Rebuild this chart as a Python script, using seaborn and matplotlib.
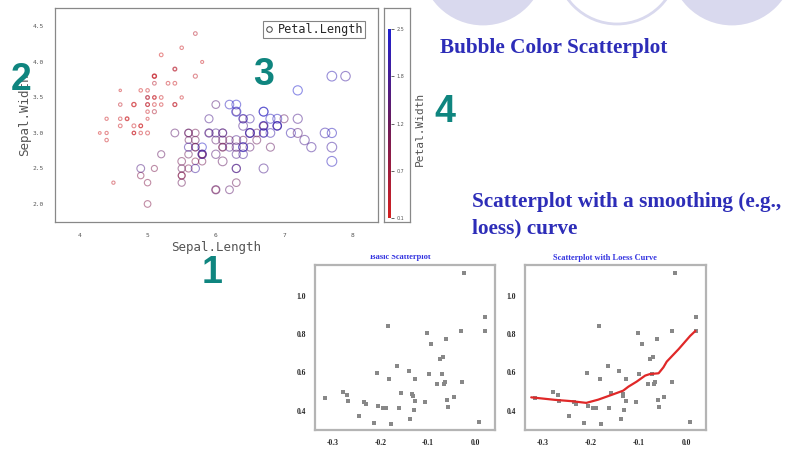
import numpy as np
import pandas as pd
import matplotlib
matplotlib.use("Agg")
import matplotlib.pyplot as plt
import seaborn as sns
from matplotlib.colors import LinearSegmentedColormap, Normalize
from matplotlib.cm import ScalarMappable
from matplotlib.lines import Line2D
from matplotlib.patches import Circle, Rectangle

# iris data (Sepal.Length vs Sepal.Width, size = Petal.Length, colour = Petal.Width)
sepal_length = [5.1,4.9,4.7,4.6,5.0,5.4,4.6,5.0,4.4,4.9,5.4,4.8,4.8,4.3,5.8,5.7,5.4,5.1,5.7,5.1,
                5.4,5.1,4.6,5.1,4.8,5.0,5.0,5.2,5.2,4.7,4.8,5.4,5.2,5.5,4.9,5.0,5.5,4.9,4.4,5.1,
                5.0,4.5,4.4,5.0,5.1,4.8,5.1,4.6,5.3,5.0,7.0,6.4,6.9,5.5,6.5,5.7,6.3,4.9,6.6,5.2,
                5.0,5.9,6.0,6.1,5.6,6.7,5.6,5.8,6.2,5.6,5.9,6.1,6.3,6.1,6.4,6.6,6.8,6.7,6.0,5.7,
                5.5,5.5,5.8,6.0,5.4,6.0,6.7,6.3,5.6,5.5,5.5,6.1,5.8,5.0,5.6,5.7,5.7,6.2,5.1,5.7,
                6.3,5.8,7.1,6.3,6.5,7.6,4.9,7.3,6.7,7.2,6.5,6.4,6.8,5.7,5.8,6.4,6.5,7.7,7.7,6.0,
                6.9,5.6,7.7,6.3,6.7,7.2,6.2,6.1,6.4,7.2,7.4,7.9,6.4,6.3,6.1,7.7,6.3,6.4,6.0,6.9,
                6.7,6.9,5.8,6.8,6.7,6.7,6.3,6.5,6.2,5.9]
sepal_width = [3.5,3.0,3.2,3.1,3.6,3.9,3.4,3.4,2.9,3.1,3.7,3.4,3.0,3.0,4.0,4.4,3.9,3.5,3.8,3.8,
               3.4,3.7,3.6,3.3,3.4,3.0,3.4,3.5,3.4,3.2,3.1,3.4,4.1,4.2,3.1,3.2,3.5,3.6,3.0,3.4,
               3.5,2.3,3.2,3.5,3.8,3.0,3.8,3.2,3.7,3.3,3.2,3.2,3.1,2.3,2.8,2.8,3.3,2.4,2.9,2.7,
               2.0,3.0,2.2,2.9,2.9,3.1,3.0,2.7,2.2,2.5,3.2,2.8,2.5,2.8,2.9,3.0,2.8,3.0,2.9,2.6,
               2.4,2.4,2.7,2.7,3.0,3.4,3.1,2.3,3.0,2.5,2.6,3.0,2.6,2.3,2.7,3.0,2.9,2.9,2.5,2.8,
               3.3,2.7,3.0,2.9,3.0,3.0,2.5,2.9,2.5,3.6,3.2,2.7,3.0,2.5,2.8,3.2,3.0,3.8,2.6,2.2,
               3.2,2.8,2.8,2.7,3.3,3.2,2.8,3.0,2.8,3.0,2.8,3.8,2.8,2.8,2.6,3.0,3.4,3.1,3.0,3.1,
               3.1,3.1,2.7,3.2,3.3,3.0,2.5,3.0,3.4,3.0]
petal_length = [1.4,1.4,1.3,1.5,1.4,1.7,1.4,1.5,1.4,1.5,1.5,1.6,1.4,1.1,1.2,1.5,1.3,1.4,1.7,1.5,
                1.7,1.5,1.0,1.7,1.9,1.6,1.6,1.5,1.4,1.6,1.6,1.5,1.5,1.4,1.5,1.2,1.3,1.4,1.3,1.5,
                1.3,1.3,1.3,1.6,1.9,1.4,1.6,1.4,1.5,1.4,4.7,4.5,4.9,4.0,4.6,4.5,4.7,3.3,4.6,3.9,
                3.5,4.2,4.0,4.7,3.6,4.4,4.5,4.1,4.5,3.9,4.8,4.0,4.9,4.7,4.3,4.4,4.8,5.0,4.5,3.5,
                3.8,3.7,3.9,5.1,4.5,4.5,4.7,4.4,4.1,4.0,4.4,4.6,4.0,3.3,4.2,4.2,4.2,4.3,3.0,4.1,
                6.0,5.1,5.9,5.6,5.8,6.6,4.5,6.3,5.8,6.1,5.1,5.3,5.5,5.0,5.1,5.3,5.5,6.7,6.9,5.0,
                5.7,4.9,6.7,4.9,5.7,6.0,4.8,4.9,5.6,5.8,6.1,6.4,5.6,5.1,5.6,6.1,5.6,5.5,4.8,5.4,
                5.6,5.1,5.1,5.9,5.7,5.2,5.0,5.2,5.4,5.1]
petal_width = [0.2,0.2,0.2,0.2,0.2,0.4,0.3,0.2,0.2,0.1,0.2,0.2,0.1,0.1,0.2,0.4,0.4,0.3,0.3,0.3,
               0.2,0.4,0.2,0.5,0.2,0.2,0.4,0.2,0.2,0.2,0.2,0.4,0.1,0.2,0.2,0.2,0.2,0.1,0.2,0.2,
               0.3,0.3,0.2,0.6,0.4,0.3,0.2,0.2,0.2,0.2,1.4,1.5,1.5,1.3,1.5,1.3,1.6,1.0,1.3,1.4,
               1.0,1.5,1.0,1.4,1.3,1.4,1.5,1.0,1.5,1.1,1.8,1.3,1.5,1.2,1.3,1.4,1.4,1.7,1.5,1.0,
               1.1,1.0,1.2,1.6,1.5,1.6,1.5,1.3,1.3,1.3,1.2,1.4,1.2,1.0,1.3,1.2,1.3,1.3,1.1,1.3,
               2.5,1.9,2.1,1.8,2.2,2.1,1.7,1.8,1.8,2.5,2.0,1.9,2.1,2.0,2.4,2.3,1.8,2.2,2.3,1.5,
               2.3,2.0,2.0,1.8,2.1,1.8,1.8,1.8,2.1,1.6,1.9,2.0,2.2,1.5,1.4,2.3,2.4,1.8,1.8,2.1,
               2.4,2.3,1.9,2.3,2.5,2.3,1.9,2.0,2.3,1.8]
cbar_ticks = [0.1, 0.7, 1.3, 1.9, 2.5]
cbar_labels = ["0.1", "0.7", "1.2", "1.8", "2.5"]

# small scatter panels (same points in both)
pts_x = [-0.316,-0.278,-0.269,-0.267,-0.245,-0.235,-0.230,-0.213,-0.207,-0.205,
         -0.195,-0.188,-0.183,-0.181,-0.178,-0.164,-0.161,-0.157,-0.140,-0.137,
         -0.133,-0.132,-0.130,-0.127,-0.126,-0.105,-0.102,-0.098,-0.093,-0.081,
         -0.075,-0.071,-0.069,-0.067,-0.065,-0.061,-0.060,-0.058,-0.046,-0.030,
         -0.029,-0.024,0.007,0.021,0.021]
pts_y = [0.465,0.495,0.481,0.451,0.372,0.447,0.433,0.333,0.596,0.425,
         0.414,0.414,0.844,0.563,0.330,0.635,0.411,0.491,0.605,0.358,
         0.486,0.474,0.402,0.451,0.565,0.446,0.805,0.591,0.749,0.540,
         0.672,0.593,0.679,0.539,0.547,0.775,0.453,0.421,0.472,0.819,
         0.549,1.121,0.342,0.888,0.816]
loess_x = [-0.324,-0.275,-0.240,-0.209,-0.184,-0.156,-0.132,-0.121,-0.104,-0.086,
           -0.076,-0.058,-0.048,-0.041,-0.016,0.008,0.019]
loess_y = [0.469,0.456,0.449,0.440,0.457,0.482,0.504,0.525,0.551,0.583,
           0.591,0.595,0.626,0.656,0.722,0.791,0.817]

W, H = 785, 451


def px_box(l, t, r, b):
    return [l / W, 1 - b / H, (r - l) / W, (b - t) / H]


def fx(x):
    return x / W


def fy(y):
    return 1 - y / H


sns.set_style("white")
plt.rcParams["font.family"] = ["DejaVu Sans"]

fig = plt.figure(figsize=(W / 100, H / 100), dpi=100)

# decorative slide circles at the top (positions in inches, 100 px per inch)
lav = "#d9d9ee"
for cx, filled in [(483, True), (617, False), (732, True)]:
    fig.patches.append(Circle((cx / 100, (H + 37) / 100), 0.61, transform=fig.dpi_scale_trans,
                              facecolor=lav if filled else "none", edgecolor=lav,
                              linewidth=2, zorder=0))

# ---- bubble colour scatterplot ----
iris = pd.DataFrame({"Sepal.Length": sepal_length, "Sepal.Width": sepal_width,
                     "Petal.Length": petal_length, "Petal.Width": petal_width})
cmap = LinearSegmentedColormap.from_list("rb", ["#d42020", "#6a1a5a", "#2020d0"])
mono = "DejaVu Sans Mono"
grey = "#555555"

ax = fig.add_axes(px_box(55, 8, 378, 222))
sns.scatterplot(data=iris, x="Sepal.Length", y="Sepal.Width", hue="Petal.Width",
                size="Petal.Length", palette=cmap, hue_norm=(0.1, 2.5),
                sizes=(3, 50), size_norm=(1.0, 6.9), legend=False, ax=ax)
# hollow bubbles: outline in the hue colour
coll = ax.collections[0]
fc = coll.get_facecolors()
fc[:, 3] = 0.5
coll.set_edgecolors(fc)
coll.set_facecolors("none")
coll.set_linewidths(0.8)
ax.set_xlim(3.644, 8.376)
ax.set_ylim(1.746, 4.76)
ax.set_xticks([4, 5, 6, 7, 8])
ax.set_yticks([2.0, 2.5, 3.0, 3.5, 4.0, 4.5])
ax.set_xticklabels(["4", "5", "6", "7", "8"])
ax.set_yticklabels(["2.0", "2.5", "3.0", "3.5", "4.0", "4.5"])
ax.tick_params(labelsize=4.5, labelcolor=grey, length=2, width=0.5, color="#888888", pad=6)
for lab in ax.get_xticklabels() + ax.get_yticklabels():
    lab.set_family(mono)
ax.set_xlabel("Sepal.Length", family=mono, fontsize=9, color=grey, labelpad=2)
ax.set_ylabel("Sepal.Width", family=mono, fontsize=9, color=grey, labelpad=1)
for sp in ax.spines.values():
    sp.set_color("#888888")
    sp.set_linewidth(0.9)
handle = Line2D([], [], marker="o", linestyle="none", markerfacecolor="none",
                markeredgecolor="#444444", markersize=4, markeredgewidth=0.7)
leg = ax.legend([handle], ["Petal.Length"], loc="upper right", prop={"family": mono, "size": 8.5},
                frameon=True, fancybox=False, borderpad=0.15, handletextpad=0.3,
                handlelength=0.8, borderaxespad=1.1)
leg.get_frame().set_edgecolor("#666666")
leg.get_frame().set_linewidth(0.8)

# colour bar with its frame
frame = fig.add_axes(px_box(384, 8, 410, 222))
frame.set_xticks([])
frame.set_yticks([])
for sp in frame.spines.values():
    sp.set_color("#888888")
    sp.set_linewidth(0.9)
cax = fig.add_axes(px_box(388, 29, 391, 218))
cb = fig.colorbar(ScalarMappable(norm=Normalize(0.1, 2.5), cmap=cmap), cax=cax)
cb.outline.set_visible(False)
cb.set_ticks(cbar_ticks)
cb.set_ticklabels(cbar_labels)
cax.tick_params(labelsize=3.5, labelcolor=grey, length=2, width=0.5, pad=2)
fig.text(fx(420), fy(129), "Petal.Width", rotation=90, ha="center", va="center",
         family=mono, fontsize=8, color=grey)

# ---- small panels ----
pts = pd.DataFrame({"x": pts_x, "y": pts_y})
curve = pd.DataFrame({"x": loess_x, "y": loess_y})
serif = "Liberation Serif"
for box, with_curve in [((315, 265, 495, 430), False), ((525, 265, 706, 430), True)]:
    a = fig.add_axes(px_box(*box))
    sns.scatterplot(data=pts, x="x", y="y", marker="s", s=5, color="#888888",
                    linewidth=0, ax=a)
    if with_curve:
        sns.lineplot(data=curve, x="x", y="y", sort=False, color="#e02828",
                     linewidth=1.6, ax=a)
    a.set_xlim(-0.337, 0.041)
    a.set_ylim(0.298, 1.162)
    a.set_xticks([-0.3, -0.2, -0.1, 0.0])
    a.set_xticklabels(["-0.3", "-0.2", "-0.1", "0.0"])
    a.set_yticks([0.4, 0.6, 0.8, 1.0])
    a.set_yticklabels(["0.4", "0.6", "0.8", "1.0"])
    a.set_xlabel("")
    a.set_ylabel("")
    a.tick_params(labelsize=5.5, length=1.5, width=0.5, color="#999999", pad=5)
    for lab in a.get_xticklabels() + a.get_yticklabels():
        lab.set_family(serif)
        lab.set_weight("bold")
    for sp in a.spines.values():
        sp.set_color("#b4b4b4")
        sp.set_linewidth(1.6)

blue = "#2d2db8"
fig.text(fx(400), fy(257), "Basic Scatterplot", ha="center", va="center",
         family=serif, weight="bold", fontsize=6, color="#3434e0", zorder=1)
fig.patches.append(Rectangle((fx(340), fy(255)), 120 / W, 15 / H, transform=fig.transFigure,
                             facecolor="white", edgecolor="none", zorder=2))
fig.text(fx(605), fy(258), "Scatterplot with Loess Curve", ha="center", va="center",
         family=serif, weight="bold", fontsize=6, color="#3434e0")

# ---- slide text ----
fig.text(fx(440), fy(48), "Bubble Color Scatterplot", ha="left", va="center",
         family=serif, weight="bold", fontsize=15.3, color=blue, zorder=3)
fig.text(fx(472), fy(202), "Scatterplot with a smoothing (e.g.,", ha="left", va="center",
         family=serif, weight="bold", fontsize=15.3, color=blue, zorder=3)
fig.text(fx(472), fy(228), "loess) curve", ha="left", va="center",
         family=serif, weight="bold", fontsize=15.3, color=blue, zorder=3)

teal = "#0f857f"
for num, x, y in [("1", 212, 273), ("2", 21, 80), ("3", 264, 75), ("4", 445, 112)]:
    fig.text(fx(x), fy(y), num, ha="center", va="center", family="Liberation Sans",
             weight="bold", fontsize=27, color=teal, zorder=5)

fig.savefig("out.png", dpi=100)
